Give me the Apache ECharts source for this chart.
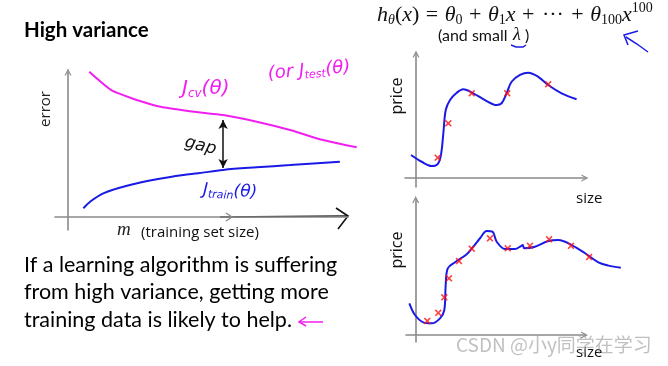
<!DOCTYPE html>
<html><head><meta charset="utf-8">
<script src="https://cdn.jsdelivr.net/npm/echarts@6/dist/echarts.min.js"></script>
<style>html,body{margin:0;padding:0;background:#fff}#c{width:668px;height:366px}</style>
</head><body><div id="c"></div>
<script>
// ---- Left chart: learning curves (training set size m vs error) ----
const cvM    = [7.6, 15.0, 17.4, 24.5, 31.7, 38.8, 46.5, 55.4, 67.4, 79.3, 91.1, 103.1];
const cvErr  = [98.2, 86.3, 84.0, 79.1, 75.0, 72.8, 70.7, 68.9, 64.4, 58.8, 52.0, 47.1];
const trM    = [5.5, 7.9, 12.6, 22.1, 31.7, 41.2, 46.5, 55.4, 67.4, 79.3, 97.1];
const trErr  = [5.9, 10.3, 16.0, 21.6, 25.5, 28.4, 29.5, 31.8, 33.6, 35.1, 37.4];
const gapM   = 55.4, gapTop = 65.5, gapBottom = 33.1;

// ---- Top right: polynomial fit, 5 points ----
const fit1Size  = [-2.9, 3.3, 9.1, 12.6, 14.5, 15.9, 17.3, 19.8, 23.7, 27.5, 33.3, 40.1, 46.9, 49.8, 52.7, 55.6, 60.5, 65.3, 71.1, 76.9, 84.7, 93.4];
const fit1Price = [18.0, 12.7, 9.4, 10.9, 18.0, 34.9, 53.1, 60.9, 66.6, 69.3, 66.2, 60.9, 57.0, 58.4, 66.2, 75.2, 80.5, 82.3, 79.1, 72.7, 66.2, 61.5];
const pts1Size  = [12.6, 18.8, 32.4, 53.1, 76.9];
const pts1Price = [15.9, 42.7, 66.2, 66.2, 73.2];

// ---- Bottom right: polynomial fit, 12 points ----
const fit2Size  = [-3.7, -0.4, 4.4, 9.3, 14.1, 16.6, 17.4, 18.6, 22.8, 29.6, 33.4, 37.3, 41.2, 44.5, 47.0, 51.8, 57.6, 61.1, 62.1, 63.0, 69.2, 77.0, 82.8, 90.5, 98.3, 106.0, 111.8, 119.0];
const fit2Price = [22.8, 14.4, 9.1, 8.4, 12.0, 18.0, 36.0, 48.0, 52.3, 58.1, 63.5, 69.6, 74.8, 74.3, 67.1, 61.9, 61.9, 64.0, 64.7, 62.4, 63.5, 67.6, 68.3, 64.7, 58.8, 52.3, 49.9, 48.4];
const pts2Size  = [6.7, 13.1, 16.6, 19.3, 25.1, 32.5, 43.1, 53.4, 66.3, 77.4, 90.1, 100.6];
const pts2Price = [10.1, 16.0, 27.1, 40.8, 53.2, 62.1, 69.6, 62.4, 64.2, 68.8, 64.2, 56.1];

const zip = (a, b) => a.map((v, i) => [v, b[i]]);
const AX = '#8a8a8a';
const MAG = '#f020f0';
const BLUE = '#1a1ae6';
const chevron = 'path://M0,10 L5,0 L10,10 L8.2,10 L5,3.6 L1.8,10 Z';
const xMark = 'path://M0,1.6 L1.6,0 L5,3.4 L8.4,0 L10,1.6 L6.6,5 L10,8.4 L8.4,10 L5,6.6 L1.6,10 L0,8.4 L3.4,5 Z';

function axis(gi, min, max, sym, hidden) {
  return {
    type: 'value', gridIndex: gi, min: min, max: max, show: !hidden,
    axisLine: { show: !hidden, onZero: true, lineStyle: { color: AX, width: 1.6 },
      symbol: sym ? ['none', chevron] : 'none', symbolSize: [10, 7] },
    axisTick: { show: false }, axisLabel: { show: false }, splitLine: { show: false }
  };
}
function curve(gi, xs, ys, color) {
  return { type: 'line', xAxisIndex: gi, yAxisIndex: gi, data: zip(xs, ys), smooth: 0.35,
    showSymbol: false, clip: false, silent: true, lineStyle: { color: color, width: 2 } };
}
function marks(gi, xs, ys) {
  return { type: 'scatter', xAxisIndex: gi, yAxisIndex: gi, data: zip(xs, ys), clip: false,
    symbol: xMark, symbolSize: 7, itemStyle: { color: '#ff1010' }, z: 5 };
}
function txt(x, y, text, font, fill, extra) {
  extra = extra || {};
  const st = Object.assign({ text: text, font: font, fill: fill, textAlign: 'left', textVerticalAlign: 'middle',
    align: 'left', verticalAlign: 'middle' }, extra.style || {});
  const el = Object.assign({ type: 'text', x: x, y: y }, extra);
  el.style = st;
  return el;
}
function sub(x, y, main, s, tail, size, color, rot) {
  return { type: 'text', x: x, y: y, rotation: rot || 0, style: {
    rich: { a: { font: 'italic ' + size + 'px "DejaVu Sans"', fill: color },
            s: { font: 'italic ' + Math.round(size * 0.62) + 'px "DejaVu Sans"', fill: color, padding: [Math.round(size * 0.5), 0, 0, 0] } },
    text: '{a|' + main + '}{s|' + s + '}{a|' + tail + '}', textVerticalAlign: 'middle', verticalAlign: 'middle' } };
}

const chart = echarts.init(document.getElementById('c'), null, { renderer: 'canvas' });
chart.setOption({
  backgroundColor: '#ffffff',
  animation: false,
  grid: [
    { left: 55, top: 72, width: 293, height: 158 },       // 0 left axes
    { left: 405, top: 54, width: 180, height: 133 },      // 1 top-right
    { left: 406, top: 199.5, width: 178.5, height: 142.5 },// 2 bottom-right axes
    { left: 68, top: 69, width: 308, height: 148 },       // 3 left data
    { left: 407.1, top: 196, width: 215.4, height: 139 }  // 4 bottom-right data
  ],
  xAxis: [axis(0, -4.64, 100, false), axis(1, -6.4, 98.3, true), axis(2, -5.63, 98.0, true),
          axis(3, 0, 110, false, true), axis(4, -5, 120, false, true)],
  yAxis: [axis(0, -8.78, 98, true), axis(1, -7.03, 96.9, true), axis(2, -5.04, 97.5, true),
          axis(3, 0, 100, false, true), axis(4, 0, 100, false, true)],
  series: [
    Object.assign(curve(3, cvM, cvErr, MAG), {
      markLine: { silent: true, symbol: ['arrow', 'arrow'], symbolSize: [7, 9],
        lineStyle: { color: '#111', width: 1.5, type: 'solid' }, label: { show: false },
        data: [[{ coord: [gapM, gapTop] }, { coord: [gapM, gapBottom] }]] } }),
    curve(3, trM, trErr, BLUE),
    curve(1, fit1Size, fit1Price, BLUE),
    marks(1, pts1Size, pts1Price),
    curve(4, fit2Size, fit2Price, BLUE),
    marks(4, pts2Size, pts2Price)
  ],
  graphic: [
    txt(24, 30, 'High variance', 'bold 20.5px Lato', '#000'),
    // left axis labels
    txt(46, 109, 'error', '15px "Open Sans"', '#222', { rotation: Math.PI / 2, style: { textAlign: 'center', align: 'center' } }),
    txt(117, 230, 'm', 'italic 19px "Liberation Serif"', '#222'),
    txt(141, 233, '(training set size)', '15px "Open Sans"', '#111'),
    // black hand-drawn axis extension
    { type: 'polyline', shape: { points: [[220, 217], [348, 216]] }, style: { stroke: '#111', lineWidth: 1.6 } },
    { type: 'polyline', shape: { points: [[336, 208], [348, 216], [338, 229]] }, style: { stroke: '#111', lineWidth: 1.6, fill: null } },
    { type: 'polyline', shape: { points: [[226, 213], [232, 217], [226, 221]] }, style: { stroke: AX, lineWidth: 1.4, fill: null } },
    // handwritten annotations
    sub(182, 89, 'J', 'cv', '(θ)', 20, MAG),
    sub(268, 74, '(or J', 'test', '(θ)', 18, MAG, 0.08),
    sub(203, 190, 'J', 'train', '(θ)', 17, BLUE, -0.05),
    txt(185, 142, 'gap', 'italic 17px "DejaVu Sans"', '#111', { rotation: -0.25 }),
    // body text
    txt(24, 265, 'If a learning algorithm is suffering', '21.5px Lato', '#000'),
    txt(24, 292, 'from high variance, getting more', '21.5px Lato', '#000'),
    txt(24, 320, 'training data is likely to help.', '21.5px Lato', '#000'),
    { type: 'polyline', shape: { points: [[299, 322], [323, 322]] }, style: { stroke: MAG, lineWidth: 1.5 } },
    { type: 'polyline', shape: { points: [[306, 317], [299, 322], [306, 326]] }, style: { stroke: MAG, lineWidth: 1.5, fill: null } },
    // formula
    { type: 'text', x: 377, y: 15, style: {
      rich: {
        i: { font: 'italic 22px "Liberation Serif"', fill: '#111', lineHeight: 28, verticalAlign: 'middle' },
        r: { font: '22px "Liberation Serif"', fill: '#111', lineHeight: 28, verticalAlign: 'middle' },
        o: { font: '22px "Liberation Serif"', fill: '#111', lineHeight: 28, verticalAlign: 'middle', padding: [0, 1, 0, 1] },
        b: { font: 'italic 14px "Liberation Serif"', fill: '#111', lineHeight: 14, verticalAlign: 'bottom', padding: [0, 0, 2, 0] },
        n: { font: '14px "Liberation Serif"', fill: '#111', lineHeight: 14, verticalAlign: 'bottom', padding: [0, 0, 2, 0] },
        p: { font: '14px "Liberation Serif"', fill: '#111', lineHeight: 14, verticalAlign: 'top' }
      },
      text: '{i|h}{b|θ}{r|(}{i|x}{r|)}{o| = }{i|θ}{n|0}{o| + }{i|θ}{n|1}{i|x}{o| + }{o|···}{o| + }{i|θ}{n|100}{i|x}{p|100}',
      textVerticalAlign: 'middle', verticalAlign: 'middle' } },
    txt(438, 36, '(and small', '16px Lato', '#111'),
    txt(513, 35, 'λ', 'italic 18px "Liberation Serif"', '#111'),
    txt(525, 36, ')', '16px Lato', '#111'),
    { type: 'polyline', shape: { points: [[511, 45], [516, 47], [523, 47], [526, 45]] }, style: { stroke: BLUE, lineWidth: 1.5, fill: null } },
    { type: 'polyline', shape: { points: [[638, 31], [624, 35], [628, 45]] }, style: { stroke: BLUE, lineWidth: 1.5, fill: null } },
    { type: 'polyline', shape: { points: [[626, 37], [637, 44], [648, 52]] }, style: { stroke: BLUE, lineWidth: 1.5, fill: null } },
    // right chart labels
    txt(397, 96, 'price', '16px "Open Sans"', '#111', { rotation: Math.PI / 2, style: { textAlign: 'center', align: 'center' } }),
    txt(576, 199, 'size', '15px "Open Sans"', '#111'),
    txt(397, 250, 'price', '16px "Open Sans"', '#111', { rotation: Math.PI / 2, style: { textAlign: 'center', align: 'center' } }),
    txt(576, 353, 'size', '15px "Open Sans"', '#111'),
    // watermark
    txt(456, 345, 'CSDN @小y同学在学习', '19px "Noto Sans CJK SC"', 'rgba(140,140,140,0.55)')
  ]
});
</script></body></html>
